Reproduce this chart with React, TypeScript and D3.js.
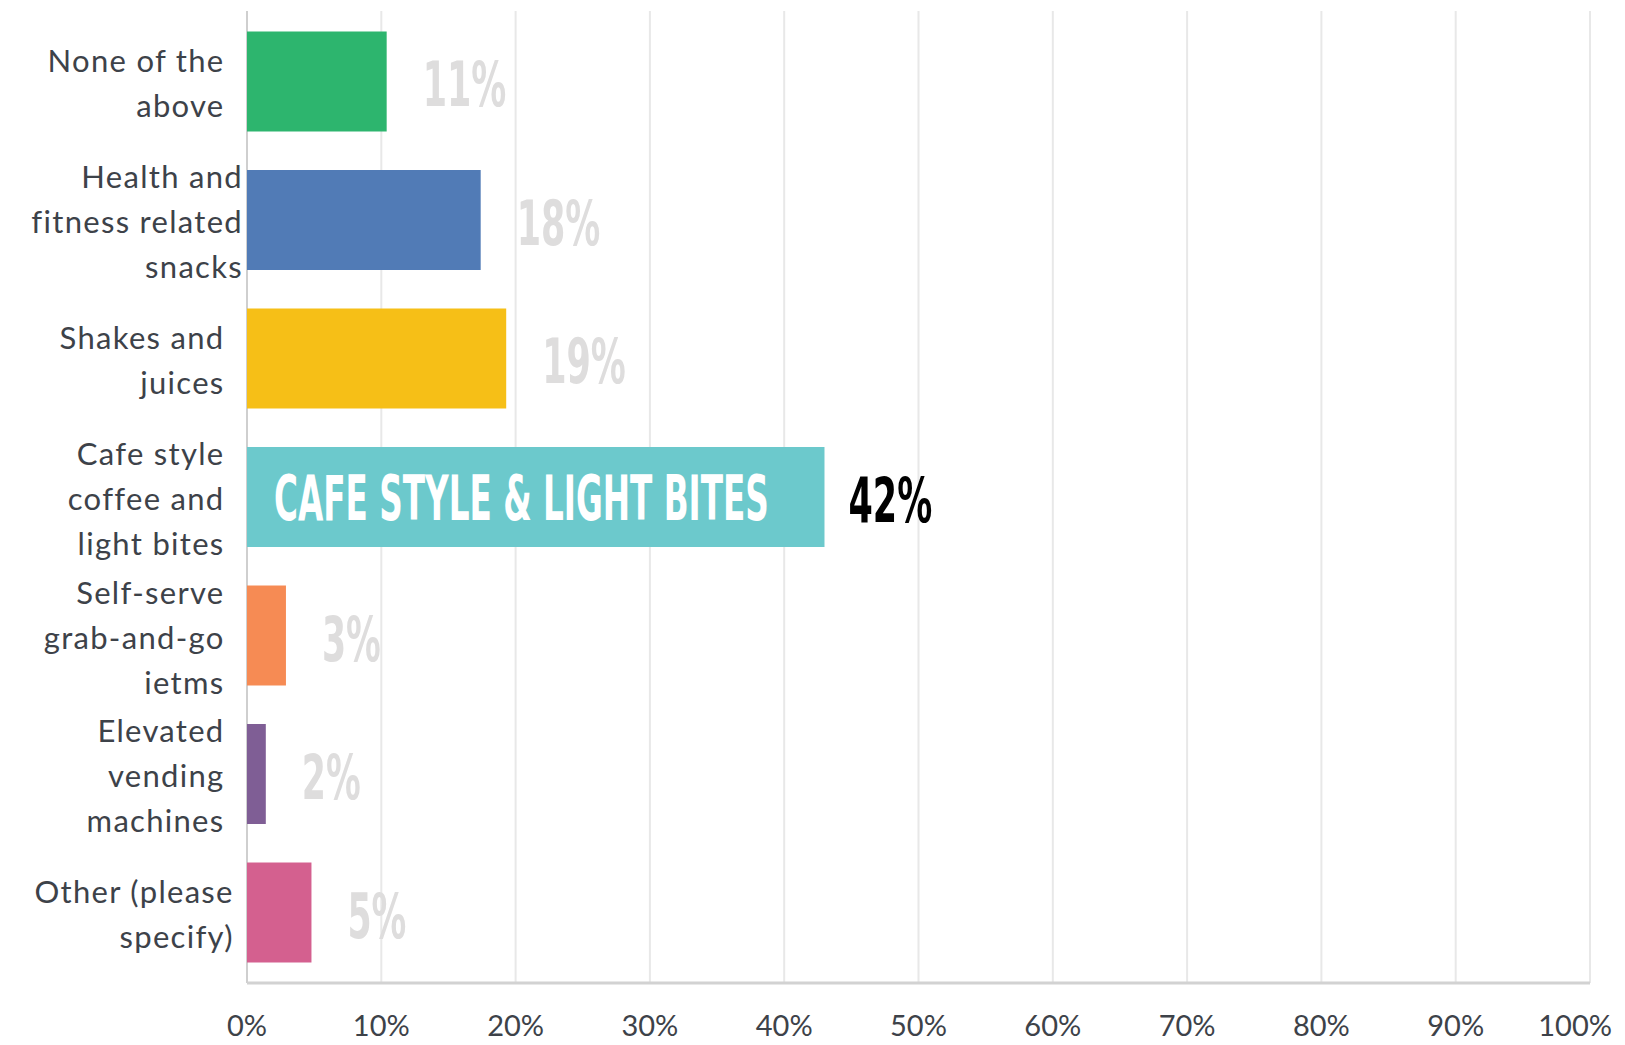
import React, { useLayoutEffect, useRef } from "react";
import * as d3 from "d3";

const categories: string[][] = [
  ["None of the\u00a0\u00a0", "above\u00a0\u00a0"],
  ["Health and", "fitness related", "snacks"],
  ["Shakes and\u00a0\u00a0", "juices\u00a0\u00a0"],
  ["Cafe style\u00a0\u00a0", "coffee and\u00a0\u00a0", "light bites\u00a0\u00a0"],
  ["Self-serve\u00a0\u00a0", "grab-and-go\u00a0\u00a0", "ietms\u00a0\u00a0"],
  ["Elevated\u00a0\u00a0", "vending\u00a0\u00a0", "machines\u00a0\u00a0"],
  ["Other (please\u00a0", "specify)\u00a0"],
];
const values: number[] = [10.4, 17.4, 19.3, 43.0, 2.9, 1.4, 4.8];
const valueLabels: string[] = ["11%", "18%", "19%", "42%", "3%", "2%", "5%"];
const highlighted: boolean[] = [false, false, false, true, false, false, false];
const barLabels: string[] = ["", "", "", "CAFE STYLE & LIGHT BITES", "", "", ""];
const colors: string[] = ["#2DB56E", "#517BB6", "#F6BF17", "#6CC9CC", "#F68B54", "#7F5E95", "#D4608F"];
const xTicks: number[] = [0, 10, 20, 30, 40, 50, 60, 70, 80, 90, 100];

const W = 1625;
const H = 1045;
const M = { left: 247, right: 35, top: 11, bottom: 62 };

const BIG = 62;
function emWidth(s: string): number {
  let w = 0;
  for (const c of s) {
    if (c === "%") w += 0.55;
    else if (/[0-9]/.test(c)) w += 0.4;
    else if (c === "I") w += 0.17;
    else if (c === " ") w += 0.14;
    else if (c === "&") w += 0.45;
    else w += 0.39;
  }
  return w;
}

export default function App() {
  const ref = useRef<SVGSVGElement>(null);
  const x = d3.scaleLinear().domain([0, 100]).range([M.left, W - M.right]);
  const y = d3
    .scaleBand<number>()
    .domain(d3.range(values.length))
    .range([M.top, H - M.bottom])
    .paddingInner(0.278)
    .paddingOuter(0.148);
  const bw = y.bandwidth();
  const labelFont = "Lato, 'Open Sans', sans-serif";
  const bigFont = "'Liberation Sans Narrow', 'DejaVu Sans Condensed', Roboto, sans-serif";
  const lineH = 45;

  useLayoutEffect(() => {
    if (!ref.current) return;
    d3.select(ref.current)
      .selectAll<SVGTextElement, unknown>("text.big")
      .each(function () {
        const el = this;
        const target = +(el.getAttribute("data-w") || 0);
        const tx = +(el.getAttribute("data-x") || 0);
        const ty = +(el.getAttribute("data-y") || 0);
        const natural = el.getComputedTextLength() || target;
        const s = target / natural;
        el.setAttribute("transform", `translate(${tx},${ty}) scale(${s},1)`);
      });
  }, []);

  const lastTick = xTicks[xTicks.length - 1];

  return (
    <svg
      ref={ref}
      width={W}
      height={H}
      style={{ position: "absolute", left: 0, top: 0, background: "#fff" }}
    >
      {xTicks.map((t) => (
        <line
          key={"g" + t}
          x1={x(t)}
          x2={x(t)}
          y1={M.top}
          y2={H - M.bottom}
          stroke={t === 0 ? "#cfcfcf" : "#e8e8e8"}
          strokeWidth={2}
        />
      ))}
      <line
        x1={x(0)}
        x2={x(100)}
        y1={H - M.bottom}
        y2={H - M.bottom}
        stroke="#d2d2d2"
        strokeWidth={3}
      />
      {xTicks.map((t) => (
        <text
          key={"t" + t}
          x={t === lastTick ? x(t) + 22 : x(t)}
          y={1036}
          textAnchor={t === lastTick ? "end" : "middle"}
          fontFamily={labelFont}
          fontSize={29}
          fill="#3d4249"
        >
          {t + "%"}
        </text>
      ))}
      {values.map((v, i) => {
        const top = y(i) as number;
        const cy = top + bw / 2;
        const lines = categories[i];
        const vx = x(v) + (highlighted[i] ? 24 : 36);
        return (
          <g key={"b" + i}>
            <rect x={x(0)} y={top} width={x(v) - x(0)} height={bw} fill={colors[i]} />
            {lines.map((ln, j) => (
              <text
                key={j}
                x={243}
                y={cy + 13 + (j - (lines.length - 1) / 2) * lineH}
                textAnchor="end"
                fontFamily={labelFont}
                fontSize={31}
                letterSpacing={1.3}
                fill="#3d4249"
                style={{ whiteSpace: "pre" }}
              >
                {ln}
              </text>
            ))}
            {barLabels[i] && (
              <text
                className="big"
                data-w={emWidth(barLabels[i]) * BIG}
                data-x={x(0) + 27}
                data-y={cy + 23}
                transform={`translate(${x(0) + 27},${cy + 23}) scale(0.6,1)`}
                fontFamily={bigFont}
                fontWeight="bold"
                fontSize={BIG}
                fill="#ffffff"
              >
                {barLabels[i]}
              </text>
            )}
            <text
              className="big"
              data-w={emWidth(valueLabels[i]) * BIG}
              data-x={vx}
              data-y={cy + 25}
              transform={`translate(${vx},${cy + 25}) scale(0.6,1)`}
              fontFamily={bigFont}
              fontWeight="bold"
              fontSize={BIG}
              fill={highlighted[i] ? "#000000" : "#dedddd"}
            >
              {valueLabels[i]}
            </text>
          </g>
        );
      })}
    </svg>
  );
}
